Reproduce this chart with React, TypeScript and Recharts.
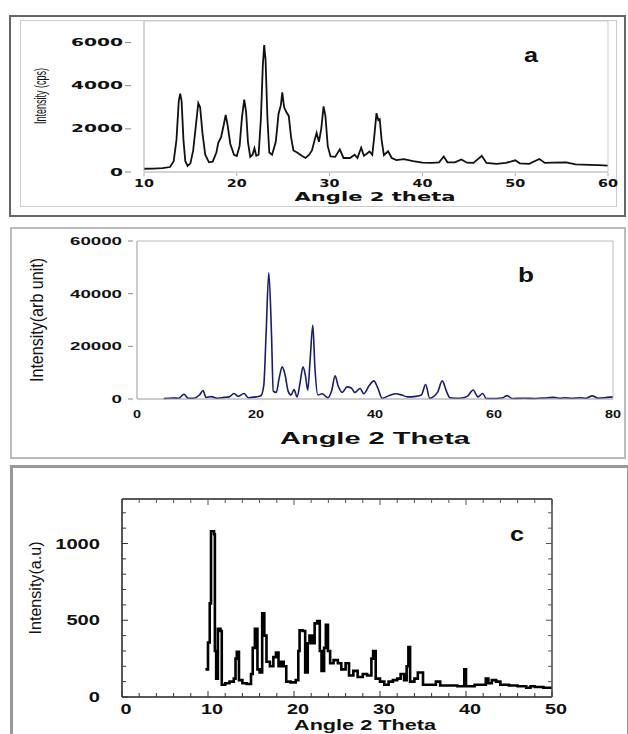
import { LineChart, Line, XAxis, YAxis } from "recharts";

// panel a: Intensity (cps) vs Angle 2 theta
const angleA = [
  10.0, 11.0, 12.0, 12.8, 13.2, 13.5, 13.75, 13.9, 14.05, 14.25, 14.45, 14.7, 15.0, 15.3, 15.6, 15.85, 16.05, 16.3,
  16.6, 17.0, 17.4, 17.8, 18.0, 18.3, 18.6, 18.8, 19.0, 19.3, 19.7, 20.0, 20.3, 20.55, 20.8, 21.0, 21.2, 21.45, 21.7,
  21.9, 22.1, 22.35, 22.6, 22.8, 22.95, 23.1, 23.3, 23.5, 23.8, 24.2, 24.5, 24.75, 24.9, 25.1, 25.35, 25.6, 25.85,
  26.1, 26.5, 27.0, 27.4, 27.8, 28.1, 28.4, 28.6, 28.85, 29.1, 29.35, 29.55, 29.8, 30.1, 30.6, 31.1, 31.5, 32.2,
  32.7, 33.0, 33.4, 33.7, 34.0, 34.3, 34.6, 34.85, 35.05, 35.25, 35.4, 35.6, 35.85, 36.3, 36.7, 37.2, 38.0, 39.0,
  40.0, 41.0, 41.8, 42.3, 42.7, 43.5, 44.2, 44.8, 45.5, 46.4, 46.9, 48.0, 49.0, 50.0, 50.5, 51.5, 52.6, 53.2, 54.0,
  55.5, 56.5, 58.0, 59.0, 60.0,
];
const intensityA = [
  150, 160, 180, 230, 500, 1500, 3300, 3630, 3300, 1500, 500, 280, 400, 1000, 2200, 3190, 3000, 1800,
  800, 450, 480, 900, 1350, 1600, 2200, 2650, 2200, 1300, 800, 740, 1200, 2500, 3350, 2800, 1400, 700, 800,
  1100, 750, 800, 2500, 4900, 5880, 5200, 2500, 900, 800, 1400, 2700, 3100, 3690, 3000, 2770, 2600, 1600,
  1000, 900, 750, 650, 800, 1000, 1500, 1810, 1400, 2000, 3040, 2600, 1200, 720, 700, 1050, 650, 650,
  800, 650, 1130, 750, 850, 950, 800, 1800, 2730, 2400, 2450, 1500, 780, 960, 650, 550, 600, 500,
  430, 420, 450, 720, 450, 450, 580, 430, 420, 750, 420, 380, 420, 540, 400, 380, 600, 420, 430,
  450, 350, 330, 320, 300,
];
const xTicksA = [10, 20, 30, 40, 50, 60];
const yTicksA = [0, 2000, 4000, 6000];

// panel b: Intensity(arb unit) vs Angle 2 Theta
const angleB = [
  4.5, 6.0, 7.0, 7.9, 8.6, 9.5, 10.5, 11.1, 11.6, 12.5, 13.5, 14.6, 15.5, 16.3, 17.0, 18.0, 18.7, 20.0, 20.8,
  21.3, 21.7, 22.15, 22.6, 22.9, 23.4, 23.9, 24.4, 24.9, 25.4, 25.9, 26.4, 26.9, 27.4, 27.9, 28.3, 28.7, 29.1,
  29.55, 29.9, 30.4, 31.1, 32.1, 32.7, 33.3, 33.8, 34.5, 35.3, 36.0, 36.6, 37.5, 38.1, 39.0, 39.8, 40.5, 41.2,
  42.3, 43.5, 44.5, 45.5, 46.9, 47.8, 48.5, 49.2, 50.5, 51.3, 52.0, 52.6, 54.3, 55.5, 56.5, 57.3, 58.1, 58.7,
  60.3, 61.5, 62.2, 63.0, 65.0, 67.0, 69.0, 70.0, 71.0, 72.0, 73.0, 74.5, 75.5, 76.5, 77.5, 79.0, 80.0,
];
const intensityB = [
  200, 400, 300, 1800, 300, 300, 1500, 3200, 600, 900, 300, 600, 800, 2100, 1000, 2100, 500, 800, 1200,
  5000, 25000, 47900, 25000, 3000, 2500, 8000, 12200, 9000, 3000, 1500, 3600, 800, 6000, 12200, 9000, 3400, 15000,
  28000, 12000, 1500, 2000, 500, 3000, 8800, 5000, 2500, 4600, 4200, 2500, 4000, 2000, 5000, 6900, 4000, 300,
  1200, 2000, 1500, 800, 1000, 1500, 5500, 300, 2500, 6900, 3000, 500, 300, 1000, 3400, 800, 2100, 200,
  200, 500, 1300, 200, 300, 200, 500, 600, 300, 500, 300, 500, 300, 1200, 300, 600, 800,
];
const xTicksB = [0, 20, 40, 60, 80];
const yTicksB = [0, 20000, 40000, 60000];

// panel c: Intensity(a.u) vs Angle 2 Theta
const angleC = [
  9.7, 10.0, 10.2, 10.35, 10.7, 10.8, 10.95, 11.15, 11.45, 11.6, 12.0, 12.5, 13.0, 13.2, 13.35, 13.6, 14.0, 14.5,
  15.0, 15.2, 15.45, 15.75, 16.0, 16.3, 16.55, 16.8, 17.2, 17.6, 17.9, 18.2, 18.5, 18.8, 19.1, 19.6, 20.2, 20.5,
  20.65, 21.0, 21.3, 21.6, 21.8, 22.1, 22.4, 22.7, 23.0, 23.2, 23.5, 23.7, 23.95, 24.2, 24.6, 25.1, 25.5, 26.0,
  26.4, 26.9, 27.4, 28.0, 28.5, 29.0, 29.2, 29.5, 30.0, 30.5, 31.0, 31.5, 32.0, 32.4, 32.8, 33.1, 33.3, 33.5,
  34.0, 34.4, 34.7, 35.0, 36.0, 36.5, 37.0, 38.0, 39.0, 39.6, 39.8, 40.0, 41.0, 42.2, 42.3, 42.6, 43.0, 43.5,
  44.0, 45.0, 46.0, 47.0, 47.5, 48.0, 49.0, 50.0,
];
const intensityC = [
  180, 355, 610, 1080, 1060, 300, 120, 445, 430, 80, 90, 100, 120, 250, 295, 110, 90, 85,
  150, 320, 445, 180, 160, 545, 400, 230, 200, 260, 290, 200, 230, 200, 100, 95, 110, 300,
  435, 430, 160, 350, 400, 350, 480, 495, 300, 170, 320, 470, 300, 220, 240, 220, 180, 220,
  140, 170, 130, 150, 140, 250, 300, 120, 100, 80, 100, 110, 120, 150, 110, 200, 325, 100,
  120, 160, 160, 80, 80, 100, 75, 75, 70, 70, 180, 70, 80, 80, 120, 90, 110, 100,
  80, 75, 70, 60, 70, 65, 60, 60,
];
const xTicksC = [0, 2, 4, 6, 8, 10, 12, 14, 16, 18, 20, 22, 24, 26, 28, 30, 32, 34, 36, 38, 40, 42, 44, 46, 48, 50];
const yTicksC = [0, 100, 200, 300, 400, 500, 600, 700, 800, 900, 1000, 1100, 1200];
const xLabelsC = [0, 10, 20, 30, 40, 50];
const yLabelsC = [0, 500, 1000];

const rowsA = angleA.map((a, i) => ({ angle: a, intensity: intensityA[i] }));
const rowsB = angleB.map((a, i) => ({ angle: a, intensity: intensityB[i] }));
const rowsC = angleC.map((a, i) => ({ angle: a, intensity: intensityC[i] }));

type Side = "left" | "right" | "top" | "bottom";
interface TickOpts {
  side: Side;
  size?: number;
  family?: string;
  perChar?: number;
  gap?: number;
  dx?: number;
  show?: (v: number) => boolean;
  mark?: (v: number) => [number, number] | null;
  markColor?: string;
  markWidth?: number;
}

// draws the tick label (stretched to a fixed width) and an optional tick mark
function makeTick(o: TickOpts) {
  return (p: any) => {
    const { x, y, payload } = p;
    const v = Number(payload.value);
    const s = String(v);
    const m = o.mark ? o.mark(v) : null;
    const horiz = o.side === "left" || o.side === "right";
    const showLabel = o.size && (o.show ? o.show(v) : true);
    return (
      <g>
        {m && (
          <line
            x1={horiz ? x + m[0] : x}
            x2={horiz ? x + m[1] : x}
            y1={horiz ? y : y + m[0]}
            y2={horiz ? y : y + m[1]}
            stroke={o.markColor || "#000"}
            strokeWidth={o.markWidth || 1}
          />
        )}
        {showLabel && (
          <text
            x={(o.side === "left" ? x - (o.gap || 0) : x) + (o.dx || 0)}
            y={o.side === "bottom" ? y + (o.gap || 0) : y}
            textAnchor={o.side === "left" ? "end" : "middle"}
            dominantBaseline="central"
            fontSize={o.size}
            fontWeight="bold"
            fontFamily={o.family || "Liberation Sans"}
            fill="#111"
            textLength={(o.perChar || 8) * s.length}
            lengthAdjust="spacingAndGlyphs"
          >
            {s}
          </text>
        )}
      </g>
    );
  };
}

// invisible copy of the series, only there so the top and right frame axes get drawn
const frameLine = (
  <Line xAxisId="top" yAxisId="right" dataKey="intensity" stroke="none" dot={false} activeDot={false} isAnimationActive={false} />
);

function PanelA() {
  return (
    <LineChart width={628} height={220} data={rowsA} margin={{ top: 20, right: 19, bottom: 18, left: 84 }}>
      <XAxis
        dataKey="angle"
        type="number"
        domain={[10, 60]}
        ticks={xTicksA}
        interval={0}
        height={30}
        tickSize={0}
        tickMargin={0}
        tickLine={false}
        axisLine={{ stroke: "#aaa" }}
        tick={makeTick({ side: "bottom", size: 10, family: "DejaVu Sans", perChar: 10, gap: 11, mark: () => [1, 4], markColor: "#aaa" })}
      />
      <XAxis xAxisId="top" dataKey="angle" orientation="top" type="number" domain={[10, 60]} height={1} tick={false} tickLine={false} axisLine={{ stroke: "#ccc" }} />
      <YAxis
        type="number"
        domain={[0, 7000]}
        ticks={yTicksA}
        interval={0}
        width={60}
        tickSize={0}
        tickMargin={0}
        tickLine={false}
        axisLine={{ stroke: "#aaa" }}
        tick={makeTick({ side: "left", size: 10, family: "DejaVu Sans", perChar: 13, gap: 21, mark: () => [-19, -13], markColor: "#888" })}
      />
      <YAxis yAxisId="right" orientation="right" type="number" domain={[0, 7000]} width={1} tick={false} tickLine={false} axisLine={{ stroke: "#ccc" }} />
      <Line type="linear" dataKey="intensity" stroke="#111" strokeWidth={1.8} dot={false} isAnimationActive={false} />
      {frameLine}
    </LineChart>
  );
}

function PanelB() {
  return (
    <LineChart width={628} height={240} data={rowsB} margin={{ top: 20, right: 14, bottom: 31, left: 77 }}>
      <XAxis
        dataKey="angle"
        type="number"
        domain={[0, 80]}
        ticks={xTicksB}
        interval={0}
        height={30}
        tickSize={0}
        tickMargin={0}
        tickLine={false}
        axisLine={{ stroke: "#999" }}
        tick={makeTick({ side: "bottom", size: 11, perChar: 8, gap: 15 })}
      />
      <XAxis xAxisId="top" dataKey="angle" orientation="top" type="number" domain={[0, 80]} height={1} tick={false} tickLine={false} axisLine={{ stroke: "#bbb" }} />
      <YAxis
        type="number"
        domain={[0, 60000]}
        ticks={yTicksB}
        interval={0}
        width={60}
        tickSize={0}
        tickMargin={0}
        tickLine={false}
        axisLine={{ stroke: "#999" }}
        tick={makeTick({ side: "left", size: 11, perChar: 10.4, gap: 15, mark: () => [-9, -4], markColor: "#888" })}
      />
      <YAxis yAxisId="right" orientation="right" type="number" domain={[0, 60000]} width={1} tick={false} tickLine={false} axisLine={{ stroke: "#bbb" }} />
      <Line type="monotone" dataKey="intensity" stroke="#1c1c6e" strokeWidth={1.6} dot={false} isAnimationActive={false} />
      {frameLine}
    </LineChart>
  );
}

function PanelC() {
  const xMark = (dir: number) => (v: number): [number, number] => [0, dir * (v % 10 === 0 ? 6 : 4)];
  const yMark = (dir: number) => (v: number): [number, number] => [0, dir * (v % 500 === 0 ? 6 : 4)];
  return (
    <LineChart width={628} height={274} data={rowsC} margin={{ top: 38, right: 75, bottom: 7, left: 72 }}>
      <XAxis
        dataKey="angle"
        type="number"
        domain={[0, 50]}
        ticks={xTicksC}
        interval={0}
        height={30}
        tickSize={0}
        tickMargin={0}
        tickLine={false}
        axisLine={{ stroke: "#222", strokeWidth: 1.5 }}
        tick={makeTick({ side: "bottom", size: 14, perChar: 11, gap: 12, dx: 4, show: (v) => xLabelsC.includes(v), mark: xMark(-1), markColor: "#333" })}
      />
      <XAxis
        xAxisId="top"
        dataKey="angle"
        orientation="top"
        type="number"
        domain={[0, 50]}
        ticks={xTicksC}
        interval={0}
        height={1}
        tickSize={0}
        tickMargin={0}
        tickLine={false}
        axisLine={{ stroke: "#222", strokeWidth: 1.5 }}
        tick={makeTick({ side: "top", mark: xMark(1), markColor: "#555" })}
      />
      <YAxis
        type="number"
        domain={[0, 1290]}
        ticks={yTicksC}
        interval={0}
        width={50}
        tickSize={0}
        tickMargin={0}
        tickLine={false}
        axisLine={{ stroke: "#222", strokeWidth: 1.5 }}
        tick={makeTick({ side: "left", size: 14, perChar: 11.2, gap: 22, show: (v) => yLabelsC.includes(v), mark: yMark(1), markColor: "#333" })}
      />
      <YAxis
        yAxisId="right"
        orientation="right"
        type="number"
        domain={[0, 1290]}
        ticks={yTicksC}
        interval={0}
        width={1}
        tickSize={0}
        tickMargin={0}
        tickLine={false}
        axisLine={{ stroke: "#444", strokeWidth: 1.5 }}
        tick={makeTick({ side: "right", mark: yMark(-1), markColor: "#555" })}
      />
      <Line type="stepAfter" dataKey="intensity" stroke="#000" strokeWidth={2.6} dot={false} isAnimationActive={false} />
      {frameLine}
    </LineChart>
  );
}

const box = (l: number, t: number, w: number, h: number, border: string) => ({
  position: "absolute" as const,
  left: l,
  top: t,
  width: w,
  height: h,
  border,
  boxSizing: "border-box" as const,
});

export default function App() {
  const bold = { fontWeight: "bold", fill: "#111" };
  return (
    <div style={{ position: "absolute", left: 0, top: 0, width: 628, height: 734, overflow: "hidden", background: "#fff" }}>
      <div style={box(9, 15, 617, 202, "2px solid #666")} />
      <div style={box(20, 20, 597, 187, "1px solid #ccc")} />
      <div style={box(10, 227, 616, 232, "2px solid #bbb")} />
      <div style={box(10, 465, 620, 280, "3px solid #999")} />

      <div style={{ position: "absolute", left: 0, top: 0 }}>
        <PanelA />
      </div>
      <div style={{ position: "absolute", left: 0, top: 220 }}>
        <PanelB />
      </div>
      <div style={{ position: "absolute", left: 0, top: 460 }}>
        <PanelC />
      </div>

      <svg width={628} height={734} style={{ position: "absolute", left: 0, top: 0, pointerEvents: "none" }}>
        <g fontFamily="Liberation Sans">
          <text x={375} y={197} textAnchor="middle" dominantBaseline="central" fontSize={12} fontFamily="DejaVu Sans" textLength={161} lengthAdjust="spacingAndGlyphs" {...bold}>
            Angle 2 theta
          </text>
          <text transform="translate(40,96) rotate(-90)" textAnchor="middle" dominantBaseline="central" fontSize={16} textLength={56} lengthAdjust="spacingAndGlyphs" fill="#111">
            Intensity (cps)
          </text>
          <text x={531} y={62} textAnchor="middle" fontSize={20} textLength={14} lengthAdjust="spacingAndGlyphs" {...bold}>
            a
          </text>

          <text x={375} y={438} textAnchor="middle" dominantBaseline="central" fontSize={17} textLength={190} lengthAdjust="spacingAndGlyphs" {...bold}>
            Angle 2 Theta
          </text>
          <text transform="translate(37,320) rotate(-90)" textAnchor="middle" dominantBaseline="central" fontSize={18} textLength={124} lengthAdjust="spacingAndGlyphs" fill="#111">
            Intensity(arb unit)
          </text>
          <text x={526} y={282} textAnchor="middle" fontSize={20} textLength={16} lengthAdjust="spacingAndGlyphs" {...bold}>
            b
          </text>

          <text transform="translate(35,588) rotate(-90)" textAnchor="middle" dominantBaseline="central" fontSize={16} textLength={93} lengthAdjust="spacingAndGlyphs" fill="#111">
            Intensity(a.u)
          </text>
          <text x={517} y={541} textAnchor="middle" fontSize={20} textLength={14} lengthAdjust="spacingAndGlyphs" {...bold}>
            c
          </text>
          <text x={365} y={730} textAnchor="middle" fontSize={14} textLength={142} lengthAdjust="spacingAndGlyphs" {...bold}>
            Angle 2 Theta
          </text>
        </g>
      </svg>
    </div>
  );
}
